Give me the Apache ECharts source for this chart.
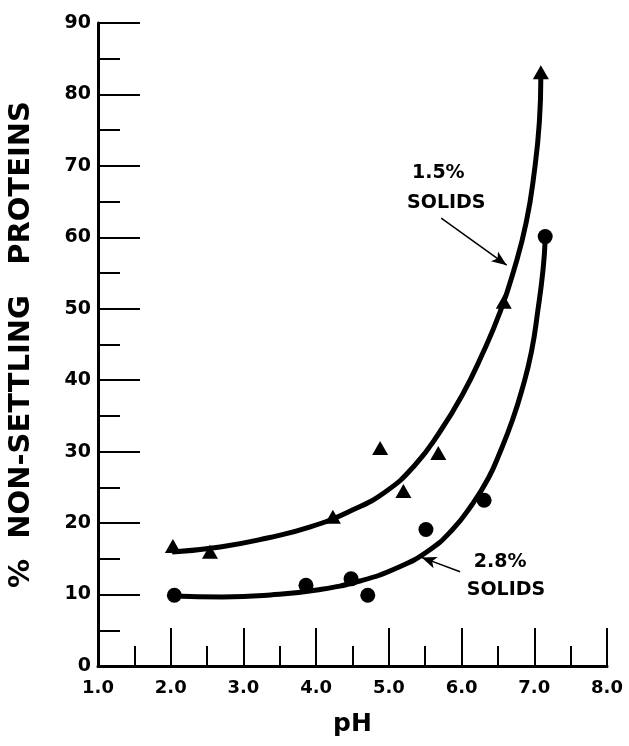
<!DOCTYPE html>
<html>
<head>
<meta charset="utf-8">
<script src="https://cdn.jsdelivr.net/npm/echarts@6/dist/echarts.min.js"></script>
<style>html,body{margin:0;padding:0;background:#fff}#c{width:629px;height:746px}</style>
</head>
<body>
<div id="c"></div>
<script>
// ---- data ----
const triangles15 = [[2.03,16.8],[2.54,16.0],[4.23,20.9],[4.88,30.5],[5.2,24.5],[5.68,29.8],[6.58,51.0],[7.09,83.1]];
const circles28 = [[2.05,9.9],[3.86,11.3],[4.48,12.2],[4.71,9.9],[5.51,19.1],[6.31,23.2],[7.15,60.1]];
const curve15 = [[2.02,15.96],[2.68,16.66],[3.33,17.92],[3.92,19.46],[4.47,21.7],[4.95,24.36],[5.36,28.14],[5.7,32.75],[6.01,37.93],[6.28,43.53],[6.53,49.55],[6.72,55.43],[6.89,62.15],[7.0,69.15],[7.07,76.15],[7.09,82.3]];
const curve28 = [[2.05,9.8],[2.71,9.66],[3.37,9.94],[4.01,10.64],[4.6,11.9],[5.11,13.72],[5.54,16.1],[5.87,19.04],[6.14,22.54],[6.37,26.32],[6.53,29.96],[6.7,34.43],[6.83,38.63],[6.96,43.95],[7.05,49.83],[7.12,55.43],[7.15,59.63]];
const xTicks = [1,2,3,4,5,6,7,8];
const yTicks = [0,10,20,30,40,50,60,70,80,90];
const annotationTexts = ['1.5%','SOLIDS','2.8%','SOLIDS'];
const annotationAnchors = [[5.68,69.0],[5.79,64.8],[6.53,14.6],[6.61,10.6]];
const arrows = [[[5.72,62.7],[6.62,56.1]],[[5.98,13.2],[5.45,15.2]]];

const chart = echarts.init(document.getElementById('c'), null, {renderer:'canvas'});
const black = '#000';

const option = {
  backgroundColor:'#fff',
  animation:false,
  grid:{left:98, right:22, top:23, bottom:80, containLabel:false, outerBoundsMode:'none'},
  xAxis:{
    type:'value', min:1, max:8, interval:1,
    name:'pH', nameLocation:'middle', nameGap:46,
    nameTextStyle:{fontFamily:'DejaVu Sans', fontWeight:'bold', fontSize:25, color:black},
    axisLine:{show:true, lineStyle:{color:black, width:3}},
    axisTick:{show:true, inside:true, length:38, lineStyle:{color:black, width:2}},
    minorTick:{show:true, splitNumber:2, length:20, lineStyle:{color:black, width:2}},
    splitLine:{show:false},
    axisLabel:{fontFamily:'DejaVu Sans', fontWeight:'bold', fontSize:18, color:black, margin:13,
      formatter:v=> xTicks.includes(v)? v.toFixed(1):''}
  },
  yAxis:{
    type:'value', min:0, max:90, interval:10,
    name:'%  NON-SETTLING   PROTEINS', nameLocation:'middle', nameGap:62, nameRotate:90,
    nameTextStyle:{fontFamily:'DejaVu Sans', fontWeight:'bold', fontSize:29, color:black},
    axisLine:{show:true, lineStyle:{color:black, width:3}},
    axisTick:{show:true, inside:true, length:42, lineStyle:{color:black, width:2}},
    minorTick:{show:true, splitNumber:2, length:22, lineStyle:{color:black, width:2}},
    splitLine:{show:false},
    axisLabel:{fontFamily:'DejaVu Sans', fontWeight:'bold', fontSize:19, color:black, margin:7,
      formatter:v=> yTicks.includes(v)? String(v):''}
  },
  series:[
    {type:'line', name:'1.5% curve', data:curve15, smooth:0.5, showSymbol:false, symbol:'none',
     lineStyle:{color:black, width:5}, z:3,
     markLine:{silent:true, symbol:['none','arrow'], symbolSize:[9,15], label:{show:false},
       itemStyle:{color:black},
       lineStyle:{color:black, width:1.5, type:'solid', opacity:1},
       data: arrows.map(a=>[{coord:a[0]},{coord:a[1]}])}
    },
    {type:'line', name:'2.8% curve', data:curve28, smooth:0.5, showSymbol:false, symbol:'none',
     lineStyle:{color:black, width:5}, z:3},
    {type:'scatter', name:'1.5% solids', data:triangles15, symbol:'triangle', symbolSize:[16,14],
     itemStyle:{color:black, opacity:1}, z:4},
    {type:'scatter', name:'2.8% solids', data:circles28, symbol:'circle', symbolSize:15,
     itemStyle:{color:black, opacity:1}, z:4},
    {type:'scatter', name:'labels', symbolSize:0, z:5,
     itemStyle:{color:black, opacity:1},
     data: annotationAnchors.map((p,i)=>({value:p, name:annotationTexts[i]})),
     label:{show:true, position:'inside', formatter:p=>p.name, fontFamily:'DejaVu Sans', fontWeight:'bold',
       fontSize:19, color:black, opacity:1, textBorderWidth:0}
    }
  ]
};
chart.setOption(option);
</script>
</body>
</html>
